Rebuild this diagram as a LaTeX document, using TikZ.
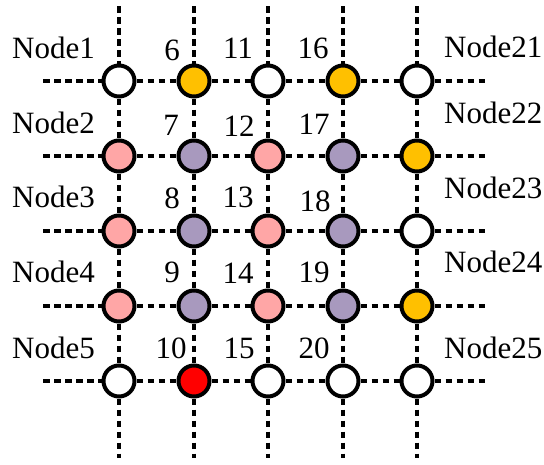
\documentclass[tikz,border=0pt]{standalone}
\usepackage{fontspec}
\setmainfont{Liberation Serif}
\definecolor{cwhite}{RGB}{255,255,255}
\definecolor{corange}{RGB}{255,192,0}
\definecolor{cpink}{RGB}{255,166,166}
\definecolor{cpurple}{RGB}{168,153,190}
\definecolor{cred}{RGB}{255,0,0}
\begin{document}
\begin{tikzpicture}[x=1pt,y=-1pt,
  site/.style={circle,draw=black,line width=4pt,minimum size=31pt,inner sep=0pt},
  link/.style={line width=3.4pt,dash pattern=on 6.5pt off 4.5pt},
  lbl/.style={font=\fontsize{31}{31}\selectfont,inner sep=0pt}]
\useasboundingbox (0,0) rectangle (544,464);

% free ends of the grid lines
\foreach \r/\y in {1/81,2/156,3/231,4/306,5/381}{
  \coordinate (hl\r) at (43,\y);
  \coordinate (hr\r) at (487,\y);
}
\foreach \c/\x in {1/119,2/194,3/268,4/343,5/417}{
  \coordinate (vt\c) at (\x,6);
  \coordinate (vb\c) at (\x,458);
}

% grid sites, numbered column by column
\foreach \c/\x/\fa/\fb/\fc/\fd/\fe in {
  1/119/cwhite/cpink/cpink/cpink/cwhite,
  2/194/corange/cpurple/cpurple/cpurple/cred,
  3/268/cwhite/cpink/cpink/cpink/cwhite,
  4/343/corange/cpurple/cpurple/cpurple/cwhite,
  5/417/cwhite/corange/cwhite/corange/cwhite}{
  \pgfmathtruncatemacro{\base}{(\c-1)*5}
  \pgfmathtruncatemacro{\ia}{\base+1}
  \pgfmathtruncatemacro{\ib}{\base+2}
  \pgfmathtruncatemacro{\ic}{\base+3}
  \pgfmathtruncatemacro{\id}{\base+4}
  \pgfmathtruncatemacro{\ie}{\base+5}
  \node[site,fill=\fa] (n\ia) at (\x,81) {};
  \node[site,fill=\fb] (n\ib) at (\x,156) {};
  \node[site,fill=\fc] (n\ic) at (\x,231) {};
  \node[site,fill=\fd] (n\id) at (\x,306) {};
  \node[site,fill=\fe] (n\ie) at (\x,381) {};
}

% horizontal dashed links
\foreach \r in {1,...,5}{
  \pgfmathtruncatemacro{\b}{\r+5}
  \pgfmathtruncatemacro{\c}{\r+10}
  \pgfmathtruncatemacro{\d}{\r+15}
  \pgfmathtruncatemacro{\e}{\r+20}
  \draw[link] (hl\r) -- (n\r);
  \draw[link] (n\r) -- (n\b);
  \draw[link] (n\b) -- (n\c);
  \draw[link] (n\c) -- (n\d);
  \draw[link] (n\d) -- (n\e);
  \draw[link] (n\e) -- (hr\r);
}
% vertical dashed links
\foreach \c in {1,...,5}{
  \pgfmathtruncatemacro{\a}{(\c-1)*5+1}
  \pgfmathtruncatemacro{\b}{\a+1}
  \pgfmathtruncatemacro{\cc}{\a+2}
  \pgfmathtruncatemacro{\d}{\a+3}
  \pgfmathtruncatemacro{\e}{\a+4}
  \draw[link] (vt\c) -- (n\a);
  \draw[link] (n\a) -- (n\b);
  \draw[link] (n\b) -- (n\cc);
  \draw[link] (n\cc) -- (n\d);
  \draw[link] (n\d) -- (n\e);
  \draw[link] (n\e) -- (vb\c);
}

% left labels
\node[lbl,anchor=west] (l1) at (12,48) {Node1};
\node[lbl,anchor=west] (l2) at (12,123) {Node2};
\node[lbl,anchor=west] (l3) at (12,197) {Node3};
\node[lbl,anchor=west] (l4) at (12,272) {Node4};
\node[lbl,anchor=west] (l5) at (12,348) {Node5};
% right labels
\node[lbl,anchor=west] (l21) at (444,47) {Node21};
\node[lbl,anchor=west] (l22) at (444,113) {Node22};
\node[lbl,anchor=west] (l23) at (444,188) {Node23};
\node[lbl,anchor=west] (l24) at (444,262) {Node24};
\node[lbl,anchor=west] (l25) at (444,348) {Node25};
% site numbers
\node[lbl] (t6) at (172,50) {6};
\node[lbl] (t7) at (171,125) {7};
\node[lbl] (t8) at (172,198) {8};
\node[lbl] (t9) at (172,272) {9};
\node[lbl] (t10) at (171,348) {10};
\node[lbl] (t11) at (238,48) {11};
\node[lbl] (t12) at (239,126) {12};
\node[lbl] (t13) at (238,197) {13};
\node[lbl] (t14) at (238,273) {14};
\node[lbl] (t15) at (239,348) {15};
\node[lbl] (t16) at (313,48) {16};
\node[lbl] (t17) at (314,124) {17};
\node[lbl] (t18) at (315,201) {18};
\node[lbl] (t19) at (314,272) {19};
\node[lbl] (t20) at (314,348) {20};
\end{tikzpicture}
\end{document}
